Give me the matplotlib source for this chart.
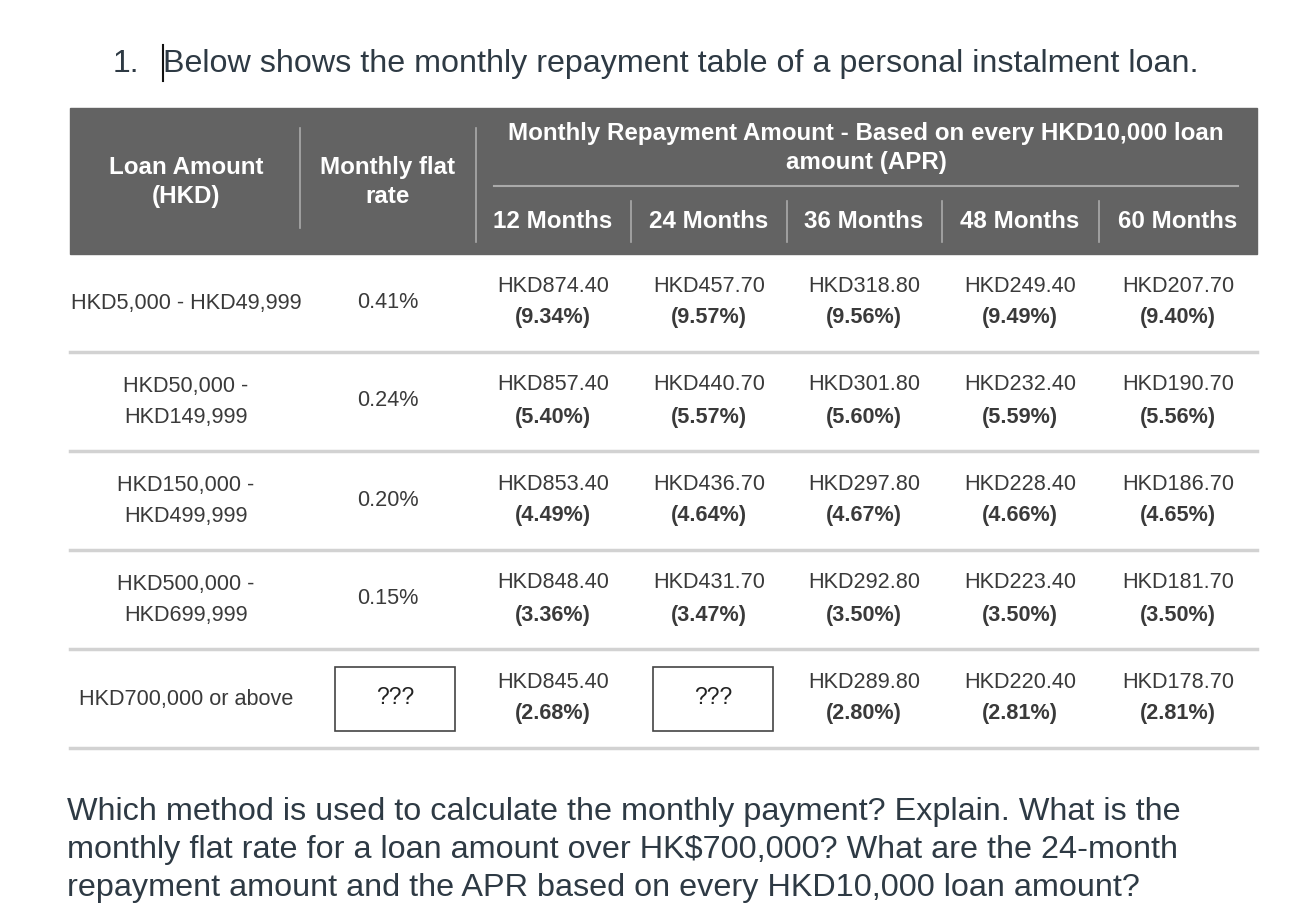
import matplotlib
matplotlib.use("Agg")
import matplotlib.pyplot as plt
from matplotlib.patches import Rectangle

plt.rcParams['font.family'] = ['Liberation Sans', 'DejaVu Sans']

# table data
loan_amounts = ["HKD5,000 - HKD49,999", "HKD50,000 -\nHKD149,999", "HKD150,000 -\nHKD499,999",
                "HKD500,000 -\nHKD699,999", "HKD700,000 or above"]
flat_rates = ["0.41%", "0.24%", "0.20%", "0.15%", "???"]
terms = ["12 Months", "24 Months", "36 Months", "48 Months", "60 Months"]
repay = [
    ["HKD874.40", "HKD457.70", "HKD318.80", "HKD249.40", "HKD207.70"],
    ["HKD857.40", "HKD440.70", "HKD301.80", "HKD232.40", "HKD190.70"],
    ["HKD853.40", "HKD436.70", "HKD297.80", "HKD228.40", "HKD186.70"],
    ["HKD848.40", "HKD431.70", "HKD292.80", "HKD223.40", "HKD181.70"],
    ["HKD845.40", "???", "HKD289.80", "HKD220.40", "HKD178.70"],
]
apr = [
    ["9.34%", "9.57%", "9.56%", "9.49%", "9.40%"],
    ["5.40%", "5.57%", "5.60%", "5.59%", "5.56%"],
    ["4.49%", "4.64%", "4.67%", "4.66%", "4.65%"],
    ["3.36%", "3.47%", "3.50%", "3.50%", "3.50%"],
    ["2.68%", None, "2.80%", "2.81%", "2.81%"],
]

title = "Below shows the monthly repayment table of a personal instalment loan."
question = ("Which method is used to calculate the monthly payment? Explain. What is the\n"
            "monthly flat rate for a loan amount over HK$700,000? What are the 24-month\n"
            "repayment amount and the APR based on every HKD10,000 loan amount?")

W, H = 1302, 924
fig = plt.figure(figsize=(W / 100, H / 100), dpi=100)
ax = fig.add_axes([0, 0, 1, 1])
ax.set_xlim(0, W)
ax.set_ylim(H, 0)
ax.axis('off')

dark = '#2e3a44'
txt = '#3a3a3a'

# heading line
ax.text(113, 64, "1.", fontsize=23, color=dark, va='center', ha='left')
ax.text(163, 64, title, fontsize=23.2, color=dark, va='center', ha='left')
ax.plot([163, 163], [45, 81], color='#111111', lw=1.5)

# header block
left, right = 70, 1257
ax.add_patch(Rectangle((left, 108), right - left, 146, color='#636363', zorder=1))
hdr = dict(color='white', fontsize=17.4, fontweight='bold', ha='center', va='center', zorder=3)
col0_x, col1_x = 186, 388
ax.text(col0_x, 182, "Loan Amount\n(HKD)", linespacing=1.38, **hdr)
ax.text(col1_x, 182, "Monthly flat\nrate", linespacing=1.38, **hdr)
ax.text(866, 148, "Monthly Repayment Amount - Based on every HKD10,000 loan\namount (APR)",
        linespacing=1.38, **hdr)
ax.plot([300, 300], [128, 228], color='#aaaaaa', lw=1.2, zorder=2)
ax.plot([476, 476], [128, 242], color='#aaaaaa', lw=1.2, zorder=2)
ax.plot([494, 1238], [186, 186], color='#aaaaaa', lw=1.5, zorder=2)

term_x = [553, 709, 864, 1020, 1178]
for i, t in enumerate(terms):
    ax.text(term_x[i], 221, t, **hdr)
    if i > 0:
        sep = (term_x[i - 1] + term_x[i]) / 2
        ax.plot([sep, sep], [201, 242], color='#aaaaaa', lw=1.2, zorder=2)

# body rows
row_h = 99
row0 = 302
fs = 15.6
body = dict(color=txt, fontsize=fs, ha='center', va='center')
for r in range(len(loan_amounts)):
    yc = row0 + r * row_h
    ax.text(col0_x, yc + 1, loan_amounts[r], linespacing=1.62, **body)
    if flat_rates[r] == "???":
        ax.add_patch(Rectangle((335, yc - 31), 120, 64, fill=False, ec='#444444', lw=1.2))
        ax.text(395, yc, "???", color='#222222', fontsize=16.5, ha='center', va='center')
    else:
        ax.text(col1_x, yc, flat_rates[r], **body)
    for c in range(len(terms)):
        x = term_x[c]
        if repay[r][c] == "???":
            ax.add_patch(Rectangle((x - 56, yc - 31), 120, 64, fill=False, ec='#444444', lw=1.2))
            ax.text(x + 4, yc, "???", color='#222222', fontsize=16.5, ha='center', va='center')
            continue
        ax.text(x, yc - 16, repay[r][c], **body)
        ax.text(x, yc + 16, "(" + apr[r][c] + ")", color=txt, fontsize=fs,
                fontweight='bold', ha='center', va='center')
    ax.plot([left, right], [yc + 50, yc + 50], color='#d2d2d2', lw=2.5)

# question
ax.text(67, 850, question, fontsize=23.3, color=dark, ha='left', va='center', linespacing=1.33)

fig.savefig("out.png", dpi=100)
